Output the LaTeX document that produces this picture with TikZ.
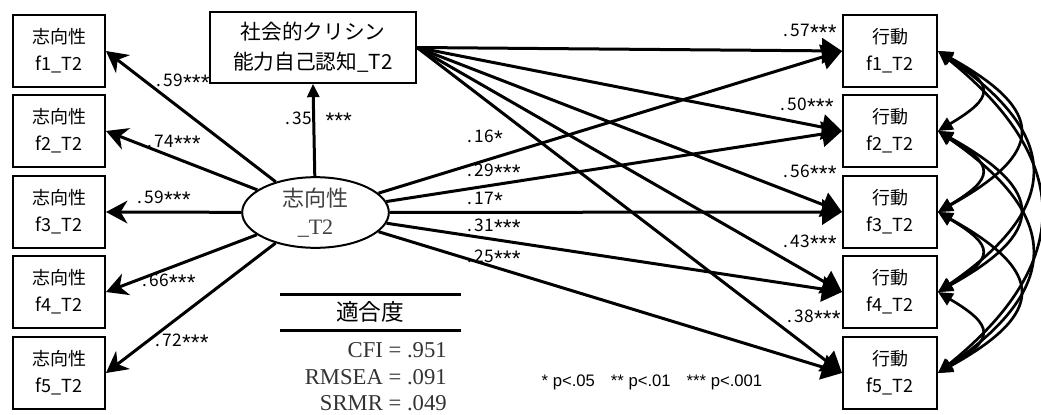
\documentclass[tikz,border=0pt]{standalone}
\usepackage{fontspec}
\usepackage{graphicx}
\setmainfont{Liberation Serif}
\newfontfamily\jp{Noto Sans CJK JP}
\newfontfamily\lsans{Liberation Sans}
\usetikzlibrary{arrows.meta,shapes.geometric}
\newcommand{\sA}{\raisebox{-0.45ex}{\lsans\scalebox{1.3}{*}}}
\newcommand{\sC}{\sA\sA\sA}
\begin{document}
\begin{tikzpicture}[x=0.75pt,y=-0.75pt,
  box/.style={draw,line width=1.5pt,minimum width=69pt,minimum height=54pt,inner sep=0pt,align=center,font=\jp\fontsize{13.5}{20}\selectfont},
  lat/.style={ellipse,draw,line width=1.5pt,minimum width=110pt,minimum height=53pt,inner sep=0pt,align=center,text=black!75,font=\fontsize{16.5}{21}\selectfont},
  reg/.style={line width=2.25pt,-{Triangle[length=15pt,width=19pt]}},
  toparr/.style={line width=2.25pt,-{Triangle[length=10pt,width=9pt]}},
  load/.style={line width=2.25pt,-{Stealth[length=16pt,width=17pt,inset=5pt]}},
  cov/.style={line width=2pt,{Triangle[length=11pt,width=10pt]}-{Triangle[length=11pt,width=10pt]}},
  lab/.style={anchor=west,font=\jp\fontsize{13}{14}\selectfont,inner sep=0pt},
  fitt/.style={anchor=base east,inner sep=0pt,text=black!80,font=\fontsize{17}{20}\selectfont},
]
\useasboundingbox (0,0) rectangle (1041,414);
% left indicators
\node[box] (s1) at (59,51) {志向性\\f1\_T2};
\node[box] (s2) at (59,131) {志向性\\f2\_T2};
\node[box] (s3) at (59,212) {志向性\\f3\_T2};
\node[box] (s4) at (59,292) {志向性\\f4\_T2};
\node[box] (s5) at (59,373) {志向性\\f5\_T2};
% right boxes
\node[box,minimum width=70.5pt] (b1) at (890,51) {行動\\f1\_T2};
\node[box,minimum width=70.5pt] (b2) at (890,131) {行動\\f2\_T2};
\node[box,minimum width=70.5pt] (b3) at (890,212) {行動\\f3\_T2};
\node[box,minimum width=70.5pt] (b4) at (890,292) {行動\\f4\_T2};
\node[box,minimum width=70.5pt] (b5) at (890,373) {行動\\f5\_T2};
% top box
\node[box,minimum width=154.5pt,minimum height=53pt,font=\jp\fontsize{15.5}{22.5}\selectfont] (soc) at (313,47.5) {社会的クリシン\\能力自己認知\_T2};
% latent
\node[lat] (eta) at (315.5,212.5) {{\jp 志向性}\\\_T2};
% loadings
\foreach \i in {1,...,5} {\draw[load] (eta) -- (s\i.east);}
\draw[toparr] (eta) -- (soc.south);
\foreach \i in {1,...,5} {\draw[reg] (soc.east) -- (b\i.west);}
\foreach \i in {1,...,5} {\draw[reg] (eta) -- (b\i.west);}
% covariances
\draw[cov] (b1.east) .. controls +(57,34) and +(57,-34) .. (b2.east);
\draw[cov] (b2.east) .. controls +(57,34) and +(57,-34) .. (b3.east);
\draw[cov] (b3.east) .. controls +(57,34) and +(57,-34) .. (b4.east);
\draw[cov] (b4.east) .. controls +(57,34) and +(57,-34) .. (b5.east);
\draw[cov] (b1.east) .. controls +(108,60) and +(108,-60) .. (b3.east);
\draw[cov] (b2.east) .. controls +(108,60) and +(108,-60) .. (b4.east);
\draw[cov] (b3.east) .. controls +(108,60) and +(108,-60) .. (b5.east);
\draw[cov] (b1.east) .. controls +(124,85) and +(124,-85) .. (b4.east);
\draw[cov] (b2.east) .. controls +(124,85) and +(124,-85) .. (b5.east);
\draw[cov] (b1.east) .. controls +(136,110) and +(136,-110) .. (b5.east);
% labels
\node[lab] (l1) at (156,82) {.\,59\sC};
\node[lab] (l2) at (147,143) {.\,74\sC};
\node[lab] (l3) at (137,199) {.\,59\sC};
\node[lab] (l4) at (142,282) {.\,66\sC};
\node[lab] (l5) at (155,342) {.\,72\sC};
\node[lab] (l6) at (285,120) {.\,35\hspace{10pt}\sC};
\node[lab] (r1) at (467,138) {.\,16\sA};
\node[lab] (r2) at (467,172) {.\,29\sC};
\node[lab] (r3) at (467,200) {.\,17\sA};
\node[lab] (r4) at (467,227) {.\,31\sC};
\node[lab] (r5) at (467,258) {.\,25\sC};
\node[lab] (q1) at (783,32) {.\,57\sC};
\node[lab] (q2) at (780,106) {.\,50\sC};
\node[lab] (q3) at (783,173) {.\,56\sC};
\node[lab] (q4) at (783,243) {.\,43\sC};
\node[lab] (q5) at (787,318) {.\,38\sC};
% fit table
\draw[line width=2.25pt] (280,294) -- (461,294);
\draw[line width=2.25pt] (280,330) -- (461,330);
\node[font=\jp\fontsize{17}{20}\selectfont] (fit) at (370,312) {適合度};
\node[fitt] (cfi) at (447,357) {CFI = .951};
\node[fitt] (rmsea) at (447,384) {RMSEA = .091};
\node[fitt] (srmr) at (447,410) {SRMR = .049};
% legend
\node[font=\lsans\fontsize{12.5}{14}\selectfont,inner sep=0pt] (leg) at (652,382) {* p<.05\hspace{12pt}** p<.01\hspace{12pt}*** p<.001};
\end{tikzpicture}
\end{document}
